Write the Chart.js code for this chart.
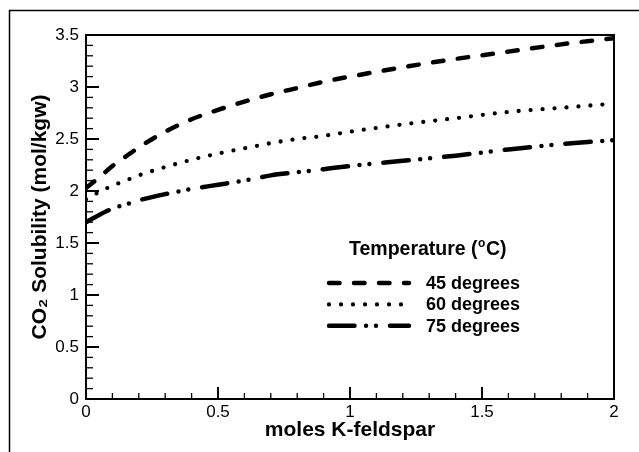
<!DOCTYPE html>
<html>
<head>
<meta charset="utf-8">
<script src="https://cdn.jsdelivr.net/npm/chart.js@4.4.1/dist/chart.umd.min.js"></script>
<style>
  html, body { margin: 0; padding: 0; background: #ffffff; }
  #wrap { width: 639px; height: 452px; }
</style>
</head>
<body>
<div id="wrap"><canvas id="c" width="639" height="452"></canvas></div>
<script>
// ---- data ----
const molesKFeldspar = [0, 0.05, 0.1, 0.15, 0.2, 0.3, 0.4, 0.5, 0.6, 0.7, 0.8, 0.9, 1.0, 1.2, 1.4, 1.6, 1.8, 2.0];
const sol45 = [2.03, 2.13, 2.24, 2.33, 2.42, 2.57, 2.69, 2.78, 2.86, 2.93, 2.99, 3.05, 3.10, 3.19, 3.27, 3.34, 3.41, 3.47];
const sol60 = [1.92, 1.99, 2.05, 2.10, 2.15, 2.23, 2.30, 2.36, 2.41, 2.46, 2.50, 2.53, 2.57, 2.64, 2.70, 2.76, 2.80, 2.84];
const sol75 = [1.70, 1.77, 1.83, 1.87, 1.91, 1.97, 2.02, 2.06, 2.10, 2.15, 2.18, 2.21, 2.24, 2.29, 2.34, 2.40, 2.45, 2.49];
const seriesLabels = ['45 degrees', '60 degrees', '75 degrees'];
const xTickValues = [0, 0.5, 1, 1.5, 2];
const yTickValues = [0, 0.5, 1, 1.5, 2, 2.5, 3, 3.5];
const legendTitle = ['Temperature (', 'o', 'C)'];
const xTitle = 'moles K-feldspar';
const yTitle = 'CO\u2082 Solubility (mol/kgw)';

const FONT = "'Liberation Sans', Arial, Helvetica, sans-serif";

function pts(ys) { return molesKFeldspar.map((x, i) => ({ x: x, y: ys[i] })); }

const styles = [
  { borderDash: [10.5, 14.5], borderWidth: 4.5 },
  { borderDash: [0, 12], borderWidth: 4.3 },
  { borderDash: [25.5, 11.5, 0, 10, 0, 14], borderWidth: 4.5 }
];
const allSeries = [sol45, sol60, sol75];

const datasets = allSeries.map((s, i) => ({
  label: seriesLabels[i],
  data: pts(s),
  borderColor: '#000000',
  backgroundColor: '#000000',
  borderWidth: styles[i].borderWidth,
  borderDash: styles[i].borderDash,
  borderCapStyle: 'round',
  borderJoinStyle: 'round',
  pointRadius: 0,
  fill: false,
  cubicInterpolationMode: 'monotone'
}));

const decorPlugin = {
  id: 'decor',
  beforeDraw(chart) {
    const ctx = chart.ctx;
    ctx.save();
    ctx.fillStyle = '#ffffff';
    ctx.fillRect(0, 0, chart.width, chart.height);
    // outer frame (top and left edges visible)
    ctx.strokeStyle = '#000';
    ctx.lineWidth = 1.5;
    ctx.beginPath();
    ctx.moveTo(9.5, chart.height);
    ctx.lineTo(9.5, 10.5);
    ctx.lineTo(chart.width, 10.5);
    ctx.stroke();
    ctx.restore();
  },
  afterDraw(chart) {
    const ctx = chart.ctx;
    const a = chart.chartArea;
    const xs = chart.scales.x, ys = chart.scales.y;
    ctx.save();
    ctx.strokeStyle = '#000';
    // minor / major ticks pointing inward
    for (let k = 0; k <= 35; k++) {
      const v = k / 10;
      const p = ys.getPixelForValue(v);
      const major = k % 5 === 0;
      ctx.lineWidth = major ? 2 : 1.3;
      ctx.beginPath();
      ctx.moveTo(a.left, p);
      ctx.lineTo(a.left + (major ? 13 : 7), p);
      ctx.stroke();
    }
    for (let k = 0; k <= 20; k++) {
      const v = k / 10;
      const p = xs.getPixelForValue(v);
      const major = k % 5 === 0;
      ctx.lineWidth = major ? 2 : 1.3;
      ctx.beginPath();
      ctx.moveTo(p, a.bottom);
      ctx.lineTo(p, a.bottom - (major ? 12 : 6));
      ctx.stroke();
    }
    // plot frame
    ctx.lineWidth = 2;
    ctx.strokeRect(a.left, a.top, a.right - a.left, a.bottom - a.top);

    // legend
    ctx.fillStyle = '#000';
    ctx.textBaseline = 'alphabetic';
    ctx.textAlign = 'left';
    let tx = 349, ty = 255;
    ctx.font = 'bold 19.5px ' + FONT;
    ctx.fillText(legendTitle[0], tx, ty);
    tx += ctx.measureText(legendTitle[0]).width;
    ctx.font = 'bold 12px ' + FONT;
    ctx.fillText(legendTitle[1], tx + 0.5, ty - 8);
    tx += ctx.measureText(legendTitle[1]).width + 1;
    ctx.font = 'bold 19.5px ' + FONT;
    ctx.fillText(legendTitle[2], tx, ty);

    chart.data.datasets.forEach((ds, i) => {
      const ly = 283 + i * 21.4;
      ctx.save();
      ctx.lineWidth = ds.borderWidth;
      ctx.setLineDash(ds.borderDash);
      ctx.lineCap = 'round';
      ctx.beginPath();
      ctx.moveTo(329, ly);
      ctx.lineTo(409, ly);
      ctx.stroke();
      ctx.restore();
      ctx.font = 'bold 18px ' + FONT;
      ctx.fillText(ds.label, 426, ly + 6);
    });
    ctx.restore();
  }
};

const fmt = v => String(v);

new Chart(document.getElementById('c'), {
  type: 'line',
  data: { datasets: datasets },
  plugins: [decorPlugin],
  options: {
    responsive: false,
    animation: false,
    devicePixelRatio: 1,
    layout: { padding: { top: 35, right: 25, left: 0, bottom: 0 } },
    plugins: { legend: { display: false }, tooltip: { enabled: false } },
    scales: {
      x: {
        type: 'linear',
        min: 0, max: 2,
        afterFit(s) { s.height = 53; },
        afterBuildTicks(s) { s.ticks = xTickValues.map(v => ({ value: v })); },
        grid: { display: false, drawTicks: false },
        border: { display: false },
        ticks: { padding: 3, color: '#000', font: { family: FONT, size: 17 }, maxRotation: 0, callback: fmt },
        title: { display: true, text: xTitle, color: '#000', font: { family: FONT, size: 21, weight: 'bold' }, padding: { top: 0, bottom: 9 } }
      },
      y: {
        type: 'linear',
        min: 0, max: 3.5,
        afterFit(s) { s.width = 86; },
        afterBuildTicks(s) { s.ticks = yTickValues.map(v => ({ value: v })); },
        grid: { display: false, drawTicks: false },
        border: { display: false },
        ticks: { padding: 7, color: '#000', font: { family: FONT, size: 17 }, callback: fmt },
        title: { display: true, text: yTitle, color: '#000', font: { family: FONT, size: 21, weight: 'bold' }, padding: { top: 28, bottom: 0 } }
      }
    }
  }
});
</script>
</body>
</html>
